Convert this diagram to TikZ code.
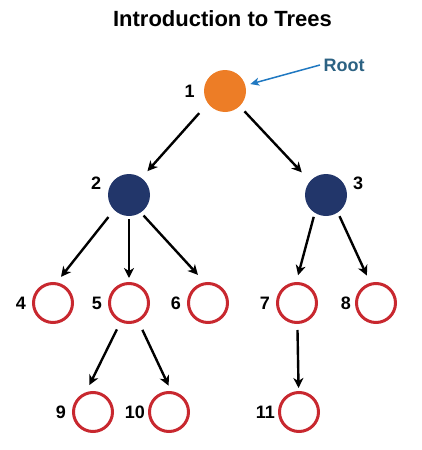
\documentclass[tikz,border=0pt]{standalone}
\usepackage{fontspec}
\setmainfont{Liberation Sans}
\usepackage{xcolor}
\usetikzlibrary{arrows.meta}
\usetikzlibrary{positioning}

\definecolor{rootorange}{HTML}{ED7D26}
\definecolor{innernavy}{HTML}{22366A}
\definecolor{leafred}{HTML}{C8282F}
\definecolor{rootblue}{HTML}{1F78C1}
\definecolor{roottext}{HTML}{2C6283}

\begin{document}
\begin{tikzpicture}[
    x=1pt, y=-1pt,
    rootnode/.style={circle, fill=rootorange, minimum size=42pt, inner sep=0pt},
    innernode/.style={circle, fill=innernavy, minimum size=42pt, inner sep=0pt},
    leafnode/.style={circle, draw=leafred, line width=3pt, minimum size=39pt, inner sep=0pt},
    lbl/.style={font=\fontsize{18}{18}\selectfont\bfseries, inner sep=1pt},
    edge/.style={line width=2.4pt, -{Stealth[length=10pt,width=10pt,inset=3pt]}},
  ]
  \path[use as bounding box] (0,0) rectangle (421,450);

  \node[font=\fontsize{22}{22}\selectfont\bfseries] (title) at (222.5, 19) {Introduction to Trees};

  \node[rootnode, label={[lbl, label distance=8pt]left:1}] (n1) at (225, 91) {};
  \node[innernode, label={[lbl, label distance=6pt]170:2}] (n2) at (129, 195) {};
  \node[innernode, label={[lbl, label distance=5pt]10:3}] (n3) at (326, 195) {};

  \node[leafnode, label={[lbl, label distance=5pt]left:4}] (n4) at (53, 303) {};
  \node[leafnode, label={[lbl, label distance=5pt]left:5}] (n5) at (129, 303) {};
  \node[leafnode, label={[lbl, label distance=5pt]left:6}] (n6) at (208, 303) {};
  \node[leafnode, label={[lbl, label distance=5pt]left:7}] (n7) at (297, 303) {};
  \node[leafnode, label={[lbl, label distance=3pt]left:8}] (n8) at (376, 303) {};

  \node[leafnode, label={[lbl, label distance=5pt]left:9}] (n9) at (93, 412) {};
  \node[leafnode, label={[lbl, label distance=2pt]left:10}] (n10) at (169, 412) {};
  \node[leafnode, label={[lbl, label distance=2pt]left:11}] (n11) at (299, 412) {};

  \node[font=\fontsize{18}{18}\selectfont\bfseries, text=roottext] (root) at (344, 65) {Root};
  \draw[rootblue, line width=1.5pt, -{Stealth[length=9pt,width=8pt,inset=2.5pt]}, shorten >=5pt] (root.west) -- (n1);

  \draw[edge, shorten <=13pt, shorten >=9pt] (n1.216) -- (n2.54);
  \draw[edge, shorten <=7pt, shorten >=12pt] (n1.314) -- (n3.139);
  \draw[edge, shorten <=9pt, shorten >=7pt] (n2.225) -- (n4.80);
  \draw[edge, shorten <=3pt, shorten >=4pt] (n2) -- (n5);
  \draw[edge, shorten <=4pt, shorten >=10pt] (n2.304) -- (n6.99);
  \draw[edge, shorten <=4pt, shorten >=7pt] (n3.238) -- (n7.92);
  \draw[edge, shorten <=4pt, shorten >=8pt] (n3.304) -- (n8.106);
  \draw[edge, shorten <=8pt, shorten >=8pt] (n5.246) -- (n9.110);
  \draw[edge, shorten <=9pt, shorten >=6pt] (n5.297) -- (n10.84);
  \draw[edge, shorten <=6pt, shorten >=3pt] (n7) -- (n11);

  \end{tikzpicture}
\end{document}
